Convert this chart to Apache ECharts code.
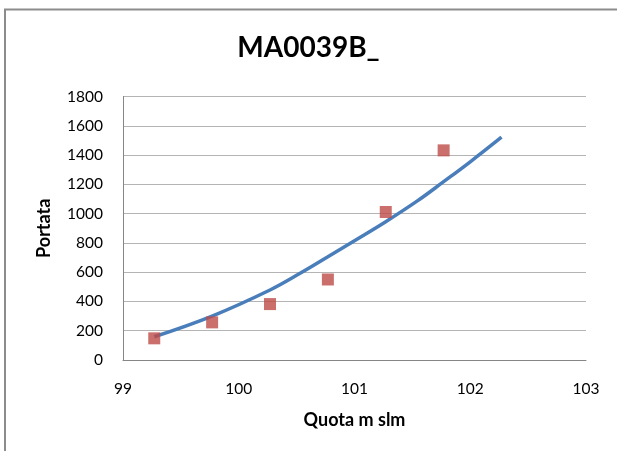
<!DOCTYPE html>
<html>
<head>
<meta charset="utf-8">
<script src="https://cdn.jsdelivr.net/npm/echarts@6/dist/echarts.min.js"></script>
<style>
html,body{margin:0;padding:0;background:#fff;}
#c{width:617px;height:451px;}
</style>
</head>
<body>
<div id="c"></div>
<script>
const titleText = "MA0039B_";
const xAxisName = "Quota m slm";
const yAxisName = "Portata";
// observed points
const quota = [99.27, 99.77, 100.27, 100.77, 101.27, 101.77];
const portata = [148, 257, 382, 550, 1011, 1432];
// trend line
const trendX = [99.27, 99.77, 100.27, 100.53, 100.77, 101.0, 101.27, 101.54, 101.77, 102.0, 102.27];
const trendY = [159, 300, 478, 592, 705, 815, 945, 1085, 1218, 1354, 1522];

const font = "Lato, 'Open Sans', sans-serif";
const chart = echarts.init(document.getElementById('c'), null, {renderer:'canvas'});
chart.setOption({
  animation:false,
  backgroundColor:'#fff',
  graphic:[{type:'rect', shape:{x:5,y:9.5,width:700,height:600}, style:{fill:'none',stroke:'#8c8c8c',lineWidth:2}, z:-1}],
  title:{text:titleText, left:'center', top:29, textStyle:{fontFamily:font, fontSize:28, fontWeight:'bold', color:'#000'}},
  grid:{left:123, right:31, top:96.5, bottom:91, containLabel:false},
  xAxis:{type:'value', min:99, max:103, interval:1,
    name:xAxisName, nameLocation:'middle', nameGap:51,
    nameTextStyle:{fontFamily:font, fontSize:18, fontWeight:'bold', color:'#000'},
    axisLine:{show:true, lineStyle:{color:'#868686', width:1}},
    axisTick:{show:false},
    axisLabel:{fontFamily:font, fontSize:15.5, color:'#000', margin:21},
    splitLine:{show:false}},
  yAxis:{type:'value', min:0, max:1800, interval:200,
    name:yAxisName, nameLocation:'middle', nameGap:70, nameRotate:90,
    nameTextStyle:{fontFamily:font, fontSize:18, fontWeight:'bold', color:'#000'},
    axisLine:{show:true, lineStyle:{color:'#868686', width:1}},
    axisTick:{show:false},
    axisLabel:{fontFamily:font, fontSize:15.5, color:'#000', margin:20, formatter:v=>String(v)},
    splitLine:{show:true, lineStyle:{color:'#b4b4b4', width:1}}},
  series:[
    {type:'line', data:trendX.map((x,i)=>[x,trendY[i]]), smooth:0.4, showSymbol:false, symbol:'none',
     lineStyle:{color:'#4a7ebb', width:3.5}, z:3},
    {type:'scatter', data:quota.map((x,i)=>[x,portata[i]]), symbol:'rect', symbolSize:12,
     itemStyle:{color:'#be4b48'}, z:4}
  ]
});
</script>
</body>
</html>
